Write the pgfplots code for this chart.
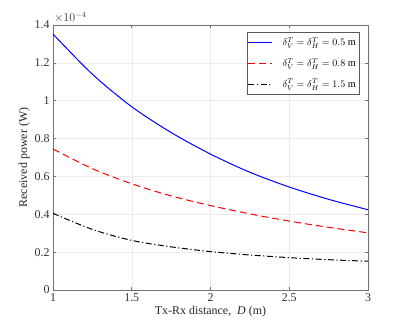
\documentclass[border=0pt]{standalone}
\usepackage{fontspec}
\setmainfont{Liberation Serif}
\usepackage{pgfplots}
\pgfplotsset{compat=1.18}
\begin{document}
\begin{tikzpicture}
\useasboundingbox (0bp,0bp) rectangle (407bp,327bp);
\begin{axis}[
  at={(53bp,37bp)}, anchor=south west,
  scale only axis, width=315bp, height=265bp,
  xmin=1, xmax=3, ymin=0, ymax=1.4,
  xtick={1,1.5,2,2.5,3},
  ytick={0,0.2,0.4,0.6,0.8,1,1.2,1.4},
  yticklabels={0,0.2,0.4,0.6,0.8,1,1.2,1.4},
  xticklabels={1,1.5,2,2.5,3},
  /pgf/number format/assume math mode=true,
  grid=major,
  major grid style={draw=black!8, line width=0.5bp},
  axis line style={draw=black!55, line width=0.6bp},
  tick style={draw=black!55, line width=0.6bp},
  tick align=inside,
  major tick length=3bp,
  xtick pos=both, ytick pos=both,
  ticklabel style={font=\fontsize{12}{14}\selectfont, text=black!80},
  xlabel={Tx-Rx distance,\ \ \textit{D} (m)},
  ylabel={Received power (W)},
  label style={font=\fontsize{12}{14}\selectfont, text=black!85},
  ylabel style={yshift=-2bp},
  xlabel style={yshift=2bp},
  legend style={at={(axis cs:2.943,1.362)}, anchor=north east, draw=black!65, line width=0.5bp,
     font=\fontsize{10.3}{12}\selectfont, inner xsep=1bp, inner ysep=3bp, row sep=7bp,
     /tikz/every odd column/.append style={column sep=8bp}},
  legend cell align=left,
  legend image post style={xscale=1.4},
]
\addplot[color=blue, line width=1bp, smooth] coordinates {
(1,1.352)(1.25,1.140)(1.5,0.968)(1.75,0.832)(2,0.718)(2.25,0.622)(2.5,0.544)(2.75,0.479)(3,0.424)};
\addlegendentry{$\delta_V^T=\delta_H^T=0.5$ m}
\addplot[color=red, line width=1bp, smooth, dash pattern=on 7bp off 4bp] coordinates {
(1,0.745)(1.25,0.641)(1.5,0.561)(1.75,0.497)(2,0.446)(2.25,0.402)(2.5,0.364)(2.75,0.331)(3,0.302)};
\addlegendentry{$\delta_V^T=\delta_H^T=0.8$ m}
\addplot[color=black, line width=1bp, smooth, dash pattern=on 6bp off 2.5bp on 1.2bp off 2.5bp] coordinates {
(1,0.405)(1.25,0.320)(1.5,0.262)(1.75,0.228)(2,0.203)(2.25,0.185)(2.5,0.171)(2.75,0.160)(3,0.152)};
\addlegendentry{$\delta_V^T=\delta_H^T=1.5$ m}
\end{axis}
\node[anchor=south west, inner sep=0pt, font=\fontsize{12}{14}\selectfont, text=black!80] at (54bp,304bp) {$\times10^{-4}$};
\end{tikzpicture}
\end{document}
